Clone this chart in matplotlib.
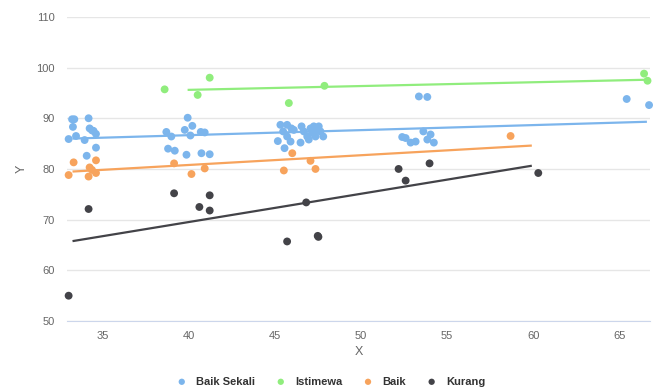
import matplotlib
matplotlib.use("Agg")
import matplotlib.pyplot as plt

plt.rcParams['font.family'] = ['Liberation Sans', 'DejaVu Sans']

# scatter data per category
baik_sekali_x = [33.0, 33.2, 33.33, 33.25, 33.43, 33.93, 34.16, 34.22, 34.36, 34.45, 34.59, 34.05, 34.59,
                 38.68, 38.97, 38.78, 39.17, 39.75, 39.92, 40.08, 40.19, 39.85, 40.68, 40.91, 40.72, 41.2,
                 45.16, 45.31, 45.47, 45.55, 45.7, 45.7, 45.9, 45.95, 46.09, 46.48, 46.54, 46.67, 46.87,
                 46.96, 47.06, 47.16, 47.25, 47.35, 47.41, 47.54, 47.64, 47.8,
                 52.39, 52.59, 52.88, 53.17, 53.36, 53.85, 53.62, 53.85, 54.04, 54.23, 65.44, 66.74]
baik_sekali_y = [85.9, 89.8, 89.8, 88.3, 86.5, 85.7, 90.0, 88.0, 87.6, 87.5, 86.9, 82.6, 84.2,
                 87.3, 86.4, 84.0, 83.6, 87.7, 90.1, 86.6, 88.5, 82.8, 87.3, 87.2, 83.1, 82.9,
                 85.5, 88.7, 87.4, 84.1, 88.7, 86.4, 85.4, 88.0, 87.7, 85.2, 88.4, 87.4, 86.4,
                 85.8, 88.0, 87.1, 88.4, 86.4, 87.7, 88.4, 87.4, 86.4,
                 86.3, 86.1, 85.2, 85.4, 94.3, 94.2, 87.4, 85.8, 86.8, 85.2, 93.8, 92.6]

istimewa_x = [38.58, 40.5, 41.2, 45.8, 47.87, 66.45, 66.65]
istimewa_y = [95.7, 94.6, 98.0, 93.0, 96.4, 98.8, 97.4]

baik_x = [33.0, 33.29, 34.16, 34.22, 34.36, 34.59, 34.59, 39.13, 40.14, 40.91, 45.51, 46.0, 47.06, 47.35, 58.69]
baik_y = [78.8, 81.3, 78.5, 80.3, 79.8, 79.2, 81.7, 81.1, 79.0, 80.1, 79.7, 83.1, 81.6, 80.0, 86.5]

kurang_x = [33.0, 34.16, 39.13, 40.6, 41.2, 41.2, 46.81, 45.7, 47.48, 47.52, 52.18, 52.59, 53.98, 60.3]
kurang_y = [55.0, 72.1, 75.2, 72.5, 74.8, 71.8, 73.4, 65.7, 66.8, 66.6, 80.0, 77.7, 81.1, 79.2]

# trend line end points per category
trend_baik_sekali = ([33.29, 66.55], [86.0, 89.3])
trend_istimewa = ([39.98, 66.65], [95.6, 97.6])
trend_baik = ([33.29, 59.86], [79.5, 84.6])
trend_kurang = ([33.29, 59.86], [65.8, 80.6])

series = [
    ("Baik Sekali", baik_sekali_x, baik_sekali_y, trend_baik_sekali, "#7cb5ec"),
    ("Istimewa", istimewa_x, istimewa_y, trend_istimewa, "#90ed7d"),
    ("Baik", baik_x, baik_y, trend_baik, "#f7a35c"),
    ("Kurang", kurang_x, kurang_y, trend_kurang, "#434348"),
]

fig = plt.figure(figsize=(6.56, 3.92), dpi=100)
ax = fig.add_axes([0.102, 0.181, 0.889, 0.776])

for name, xs, ys, trend, color in series:
    ax.plot(trend[0], trend[1], color=color, lw=1.6, zorder=2)
    ax.scatter(xs, ys, s=32, color=color, edgecolors='none', label=name, zorder=3, clip_on=False)

ax.set_xlim(32.9, 66.8)
ax.set_ylim(50, 110)
ax.set_xticks([35, 40, 45, 50, 55, 60, 65])
ax.set_yticks(range(50, 111, 10))
ax.grid(axis='y', color='#e6e6e6', lw=1)
ax.set_axisbelow(True)
for s in ['top', 'right', 'left']:
    ax.spines[s].set_visible(False)
ax.spines['bottom'].set_color('#ccd6eb')
ax.tick_params(axis='both', length=0, labelsize=8, labelcolor='#666666')
ax.tick_params(axis='y', pad=9)
ax.tick_params(axis='x', pad=7)
ax.set_xlabel('X', fontsize=9, color='#666666', labelpad=4)
ax.set_ylabel('Y', fontsize=9, color='#666666', labelpad=6)

leg = fig.legend(loc='lower center', bbox_to_anchor=(0.5, -0.012), ncol=4, frameon=False,
                 handletextpad=0.3, columnspacing=1.3, markerscale=0.8,
                 prop={'weight': 'bold', 'size': 8})
for t in leg.get_texts():
    t.set_color('#333333')

fig.savefig('out.png', dpi=100)
